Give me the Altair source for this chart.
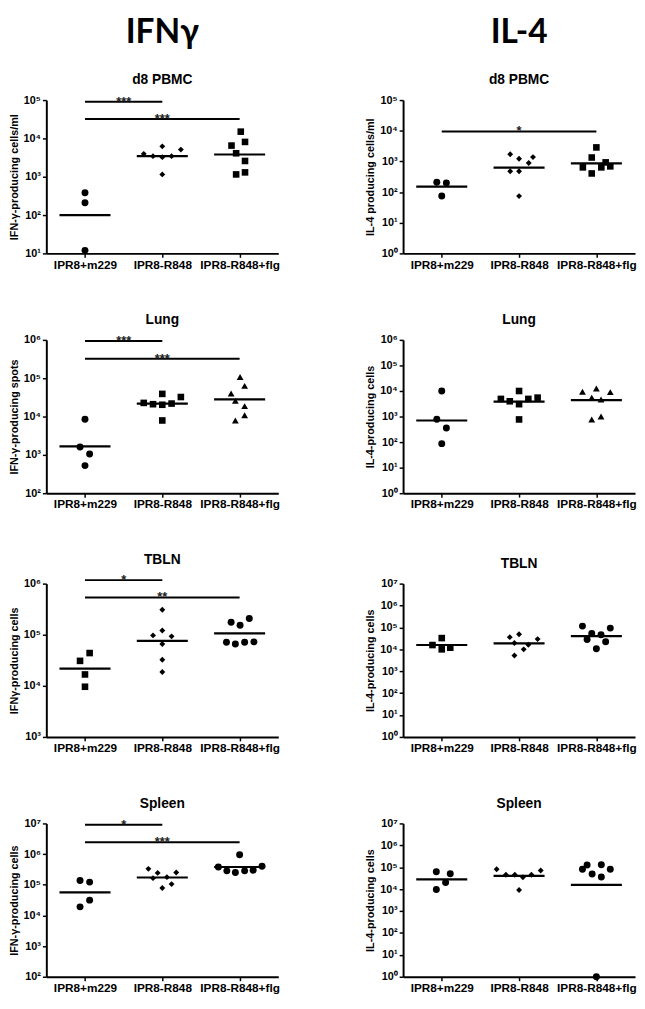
import altair as alt
import pandas as pd

GROUPS = ["IPR8+m229", "IPR8-R848", "IPR8-R848+flg"]

# ---------- data (values per group, horizontal jitter in category units, group means, significance bars) ----------
ifn_pbmc_vals = [[380, 210, 12], [3950, 3440, 6200, 3240, 3440, 5100, 1150], [15000, 6500, 8100, 4100, 2580, 1150, 1300]]
ifn_pbmc_jit = [[0, 0, 0], [-0.24, -0.12, 0, 0, 0.12, 0.24, 0], [0.015, -0.105, 0.07, -0.045, 0.07, -0.045, 0.07]]
ifn_pbmc_mean = [100, 3440, 3800]
ifn_pbmc_sig = [[0, 1, 91000, "***"], [0, 2, 32000, "***"]]

il4_pbmc_vals = [[209, 198, 74], [1720, 1220, 1380, 885, 480, 480, 74], [2860, 1340, 930, 640, 640, 690, 405]]
il4_pbmc_jit = [[-0.064, 0.06, 0], [-0.115, 0, 0.18, 0.125, -0.115, 0, 0], [0, -0.06, 0.12, -0.175, 0.064, 0.18, -0.06]]
il4_pbmc_mean = [151, 630, 860]
il4_pbmc_sig = [[0, 2, 9500, "*"]]

ifn_lung_vals = [[8500, 1600, 1060, 525], [22700, 21000, 39000, 20300, 21800, 32300, 7900], [108000, 63000, 40000, 25600, 18700, 10800, 7900]]
ifn_lung_jit = [[0, -0.064, 0.06, 0], [-0.24, -0.12, 0, 0, 0.12, 0.24, 0], [0.006, 0.065, -0.11, -0.055, 0.065, 0.065, -0.055]]
ifn_lung_mean = [1660, 21800, 28000]
ifn_lung_sig = [[0, 1, 933000, "***"], [0, 2, 324000, "***"]]

il4_lung_vals = [[10000, 790, 355, 87], [10000, 4900, 3960, 4900, 5500, 3050, 770], [9400, 12500, 9000, 5500, 4650, 770, 1000]]
il4_lung_jit = [[0, -0.064, 0.06, 0], [0, -0.235, -0.12, 0.12, 0.24, 0, 0], [-0.18, 0, 0.18, -0.06, 0.06, -0.06, 0.06]]
il4_lung_mean = [700, 3850, 4400]
il4_lung_sig = []

ifn_tbln_vals = [[43800, 30800, 16700, 9600], [309000, 121000, 97000, 93000, 66000, 32300, 18600], [175000, 153000, 208000, 71500, 66000, 71500, 72500]]
ifn_tbln_jit = [[0.06, -0.064, 0, 0], [0, 0, -0.12, 0.12, 0, 0, 0], [-0.11, 0.006, 0.125, -0.17, -0.055, 0.065, 0.185]]
ifn_tbln_mean = [21700, 76000, 106000]
ifn_tbln_sig = [[0, 1, 1170000, "*"], [0, 2, 537000, "**"]]

il4_tbln_vals = [[32600, 15700, 10000, 11900], [36000, 49000, 29300, 19400, 16300, 10000, 5200], [115000, 53000, 46000, 93000, 28300, 22300, 10700]]
il4_tbln_jit = [[0, -0.12, 0, 0.11], [-0.12, 0, 0.24, -0.06, 0.12, 0.06, -0.06], [-0.18, -0.06, 0.06, 0.18, -0.12, 0.12, 0]]
il4_tbln_mean = [15700, 18700, 40000]
il4_tbln_sig = []

ifn_spleen_vals = [[138000, 122000, 31500, 19000], [330000, 244000, 250000, 164000, 177000, 78000, 105000], [950000, 380000, 284000, 250000, 284000, 297000, 400000]]
ifn_spleen_jit = [[-0.064, 0.06, 0.06, -0.064], [-0.18, -0.06, 0.18, -0.12, 0.06, 0, 0.12], [0, -0.275, -0.165, -0.055, 0.065, 0.175, 0.29]]
ifn_spleen_mean = [56600, 172000, 380000]
ifn_spleen_sig = [[0, 1, 9100000, "*"], [0, 2, 2450000, "***"]]

il4_spleen_vals = [[62000, 50000, 20000, 9700], [81000, 71000, 45500, 45500, 45500, 34700, 9100], [127000, 131000, 81000, 81000, 49000, 35600, 1]]
il4_spleen_jit = [[-0.07, 0.11, 0.05, -0.07], [-0.29, 0.28, -0.17, -0.055, 0.16, 0.05, 0], [-0.12, 0.064, -0.18, 0.18, -0.055, 0.064, 0]]
il4_spleen_mean = [28000, 40000, 15600]
il4_spleen_sig = []

# ---------- styling ----------
SHAPE_SIZE = {"circle": 50, "square": 45, "diamond": 36, "triangle-up": 48}
FONT = "Liberation Sans"
W, H = 236, 156
MEAN_HALF = 0.33

SUP = "['⁰','¹','²','³','⁴','⁵','⁶','⁷']"


def panel(title, ytitle, lo_exp, hi_exp, vals, jit, means, sig, shapes, header=None):
    pts = []
    for g in range(3):
        for v, d in zip(vals[g], jit[g]):
            pts.append({"x": g + 0.5 + d, "y": v, "shape": shapes[g], "size": SHAPE_SIZE[shapes[g]]})
    pts = pd.DataFrame(pts)
    mdf = pd.DataFrame({"x": [g + 0.5 - MEAN_HALF for g in range(3)],
                        "x2": [g + 0.5 + MEAN_HALF for g in range(3)],
                        "y": means})
    sdf = pd.DataFrame({"x": [s[0] + 0.5 for s in sig], "x2": [s[1] + 0.5 for s in sig],
                        "xm": [(s[0] + s[1]) / 2 + 0.5 for s in sig],
                        "y": [s[2] for s in sig], "t": [s[3] for s in sig]})

    xscale = alt.Scale(domain=[0, 3], nice=False, zero=False)
    yscale = alt.Scale(type="log", domain=[10 ** lo_exp, 10 ** hi_exp], nice=False)
    xaxis = alt.Axis(values=[0.5, 1.5, 2.5], title=None, grid=False,
                     labelExpr="['IPR8+m229','IPR8-R848','IPR8-R848+flg'][floor(datum.value)]",
                     labelFont=FONT, labelFontWeight="bold", labelColor="black",
                     labelFontSize=12, tickSize=4, labelPadding=2,
                     domainColor="black", domainWidth=2, tickColor="black", tickWidth=1.5)
    yaxis = alt.Axis(values=[10 ** e for e in range(lo_exp, hi_exp + 1)], title=ytitle, grid=False,
                     labelExpr="'10' + " + SUP + "[round(log(datum.value)/LN10)]",
                     labelFont=FONT, labelFontWeight="bold", labelColor="black",
                     labelFontSize=11, tickSize=4, labelPadding=2,
                     titleFont=FONT, titleFontWeight="bold", titleColor="black",
                     titleFontSize=11, titlePadding=4,
                     domainColor="black", domainWidth=2, tickColor="black", tickWidth=1.5)

    base_x = alt.X("x:Q", scale=xscale, axis=xaxis)
    pts_layer = alt.Chart(pts).mark_point(filled=True, opacity=1, color="black").encode(
        x=base_x,
        y=alt.Y("y:Q", scale=yscale, axis=yaxis),
        shape=alt.Shape("shape:N", scale=None),
        size=alt.Size("size:Q", scale=None),
    )
    mean_layer = alt.Chart(mdf).mark_rule(color="black", strokeWidth=2.2).encode(
        x=alt.X("x:Q", scale=xscale), x2="x2:Q", y=alt.Y("y:Q", scale=yscale)
    )
    layers = [pts_layer, mean_layer]
    if len(sdf):
        sig_rule = alt.Chart(sdf).mark_rule(color="black", strokeWidth=2).encode(
            x=alt.X("x:Q", scale=xscale), x2="x2:Q", y=alt.Y("y:Q", scale=yscale)
        )
        sig_text = alt.Chart(sdf).mark_text(font=FONT, fontSize=13, fontWeight="bold", color="#222222",
                                            baseline="alphabetic", dy=4).encode(
            x=alt.X("xm:Q", scale=xscale), y=alt.Y("y:Q", scale=yscale), text="t:N"
        )
        layers += [sig_rule, sig_text]

    if header:
        t = alt.TitleParams(text=header, subtitle=title, font="Lato", fontSize=34, fontWeight="bold",
                            color="black", subtitleFont=FONT, subtitleFontSize=14,
                            subtitleFontWeight="bold", subtitleColor="black", subtitlePadding=24,
                            frame="group", anchor="middle", offset=7)
    else:
        t = alt.TitleParams(text=title, font=FONT, fontSize=14, fontWeight="bold", color="black",
                            frame="group", anchor="middle", offset=7)
    return alt.layer(*layers).properties(width=W, height=H, title=t)


panels = [
    panel("d8 PBMC", "IFN-γ-producing cells/ml", 1, 5, ifn_pbmc_vals, ifn_pbmc_jit, ifn_pbmc_mean, ifn_pbmc_sig,
          ["circle", "diamond", "square"], header="IFNγ"),
    panel("d8 PBMC", "IL-4 producing cells/ml", 0, 5, il4_pbmc_vals, il4_pbmc_jit, il4_pbmc_mean, il4_pbmc_sig,
          ["circle", "diamond", "square"], header="IL-4"),
    panel("Lung", "IFN-γ-producing spots", 2, 6, ifn_lung_vals, ifn_lung_jit, ifn_lung_mean, ifn_lung_sig,
          ["circle", "square", "triangle-up"]),
    panel("Lung", "IL-4-producing cells", 0, 6, il4_lung_vals, il4_lung_jit, il4_lung_mean, il4_lung_sig,
          ["circle", "square", "triangle-up"]),
    panel("TBLN", "IFNγ-producing cells", 3, 6, ifn_tbln_vals, ifn_tbln_jit, ifn_tbln_mean, ifn_tbln_sig,
          ["square", "diamond", "circle"]),
    panel("TBLN", "IL-4-producing cells", 0, 7, il4_tbln_vals, il4_tbln_jit, il4_tbln_mean, il4_tbln_sig,
          ["square", "diamond", "circle"]),
    panel("Spleen", "IFN-γ-producing cells", 2, 7, ifn_spleen_vals, ifn_spleen_jit, ifn_spleen_mean, ifn_spleen_sig,
          ["circle", "diamond", "circle"]),
    panel("Spleen", "IL-4-producing cells", 0, 7, il4_spleen_vals, il4_spleen_jit, il4_spleen_mean, il4_spleen_sig,
          ["circle", "diamond", "circle"]),
]

chart = alt.concat(*panels, columns=2, align="each",
                   spacing={"row": 44, "column": 86}).properties(
    padding={"left": 0, "top": 0, "right": 0, "bottom": 0}, background="white"
).configure_view(stroke=None)

chart.save("out.html", embed_options={"renderer": "svg", "actions": False})
